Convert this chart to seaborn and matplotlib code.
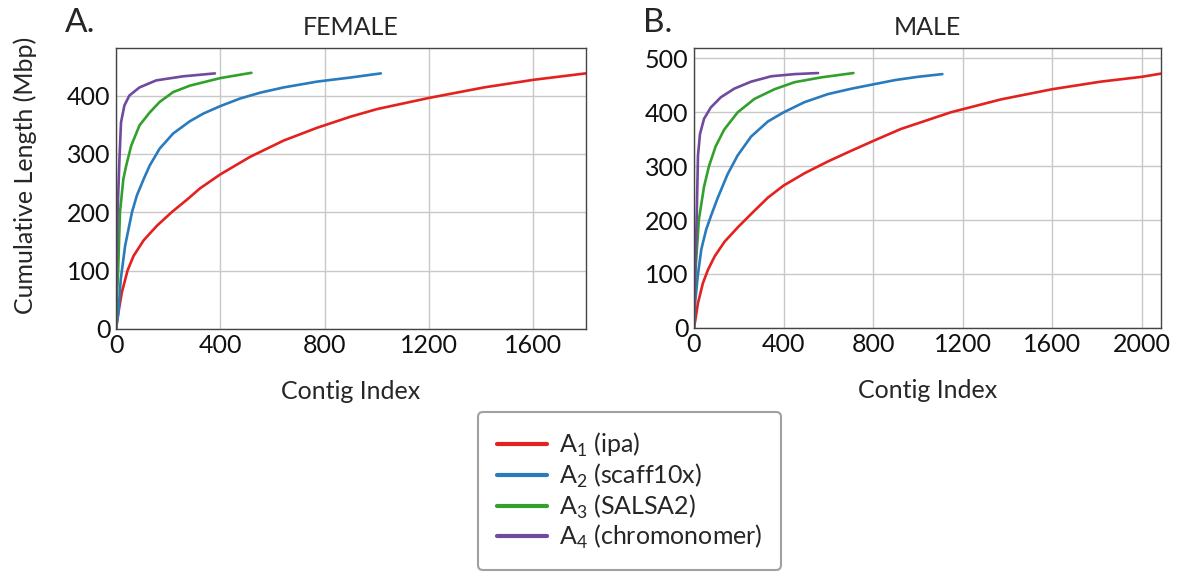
import matplotlib
matplotlib.use("Agg")
import matplotlib.pyplot as plt
import seaborn as sns
import pandas as pd

sns.set_theme(style="whitegrid")
plt.rcParams['font.family'] = ['Lato', 'DejaVu Sans']
plt.rcParams['mathtext.fontset'] = 'custom'
plt.rcParams['mathtext.rm'] = 'Lato'

labels = ["A$_1$ (ipa)", "A$_2$ (scaff10x)", "A$_3$ (SALSA2)", "A$_4$ (chromonomer)"]
colors = ["#e3211f", "#2a7bbd", "#33a02c", "#6f4a9e"]

# FEMALE (contig index, cumulative Mbp)
f_ipa_x = [0, 3, 9, 22, 44, 67, 106, 157, 213, 273, 322, 400, 514, 643, 772, 900, 1002, 1200, 1411, 1600, 1800]
f_ipa_y = [0, 10, 28, 62, 100, 125, 152, 177, 200, 222, 241, 265, 295, 323, 345, 364, 377, 396, 414, 427, 438]
f_scf_x = [0, 9, 18, 35, 61, 80, 106, 129, 167, 219, 283, 334, 400, 476, 553, 643, 772, 900, 1015]
f_scf_y = [0, 28, 85, 143, 200, 229, 257, 280, 309, 335, 356, 369, 382, 395, 405, 414, 424, 431, 438]
f_sal_x = [0, 3, 8, 15, 28, 39, 58, 90, 129, 167, 219, 283, 400, 519]
f_sal_y = [0, 50, 100, 200, 257, 280, 314, 349, 371, 389, 406, 417, 430, 439]
f_chr_x = [0, 2, 6, 13, 19, 32, 51, 90, 154, 257, 379]
f_chr_y = [0, 100, 200, 291, 354, 383, 400, 414, 426, 433, 438]

# MALE
m_ipa_x = [0, 6, 18, 40, 63, 93, 137, 197, 257, 331, 400, 494, 599, 704, 801, 923, 1146, 1370, 1600, 1816, 2000, 2086]
m_ipa_y = [0, 14, 46, 83, 108, 133, 160, 187, 212, 242, 264, 287, 309, 329, 347, 369, 400, 424, 443, 457, 466, 472]
m_scf_x = [0, 6, 18, 33, 55, 78, 105, 150, 195, 255, 330, 400, 494, 599, 704, 801, 899, 1000, 1109]
m_scf_y = [0, 50, 100, 146, 183, 210, 240, 285, 320, 355, 383, 400, 419, 434, 444, 452, 460, 466, 471]
m_sal_x = [0, 7, 22, 45, 67, 97, 135, 195, 270, 360, 449, 569, 712]
m_sal_y = [0, 108, 201, 262, 300, 337, 368, 400, 425, 443, 456, 465, 473]
m_chr_x = [0, 5, 12, 18, 27, 45, 75, 120, 180, 255, 345, 449, 554]
m_chr_y = [0, 100, 202, 320, 360, 388, 409, 428, 444, 457, 467, 471, 473]


def build(series):
    rows = []
    for lab, xs, ys in series:
        for x, y in zip(xs, ys):
            rows.append({"Assembly": lab, "x": x, "y": y})
    return pd.DataFrame(rows)


fem = build(zip(labels, [f_ipa_x, f_scf_x, f_sal_x, f_chr_x], [f_ipa_y, f_scf_y, f_sal_y, f_chr_y]))
mal = build(zip(labels, [m_ipa_x, m_scf_x, m_sal_x, m_chr_x], [m_ipa_y, m_scf_y, m_sal_y, m_chr_y]))

fig = plt.figure(figsize=(11.77, 5.75), dpi=100)
ax1 = fig.add_axes([0.0986, 0.428, 0.399, 0.489])
ax2 = fig.add_axes([0.5896, 0.43, 0.397, 0.487])

pal = dict(zip(labels, colors))
for ax, df, title, letter, xmax, ymax, yt in [
    (ax1, fem, "FEMALE", "A.", 1800, 482, [0, 100, 200, 300, 400]),
    (ax2, mal, "MALE", "B.", 2086, 520, [0, 100, 200, 300, 400, 500]),
]:
    sns.lineplot(data=df, x="x", y="y", hue="Assembly", palette=pal, sort=False,
                 linewidth=1.9, ax=ax, legend=(ax is ax1))
    ax.set_xlim(0, xmax)
    ax.set_ylim(0, ymax)
    ax.set_xticks([t for t in [0, 400, 800, 1200, 1600, 2000] if t <= xmax])
    ax.set_yticks(yt)
    ax.tick_params(labelsize=18, length=3, pad=1, colors="#111111")
    ax.grid(True, color="#c8c8c8", linewidth=1.0)
    for s in ax.spines.values():
        s.set_color("#444444")
        s.set_linewidth(1.0)
    ax.set_xlabel("Contig Index", fontsize=18, labelpad=16)
    ax.set_ylabel("")
    ax.set_title(title, fontsize=18, pad=9)
    ax.text(-0.108, 1.035, letter, transform=ax.transAxes,
            fontsize=24, ha="left", va="bottom")

ax1.set_ylabel("Cumulative Length (Mbp)", fontsize=18)
ax1.yaxis.set_label_coords(-0.168, 0.545)

handles, labs = ax1.get_legend_handles_labels()
ax1.get_legend().remove()
leg = fig.legend(handles, labs, loc="lower center", bbox_to_anchor=(0.535, 0.0),
                 fontsize=18, frameon=True, fancybox=True, edgecolor="#888888",
                 borderpad=0.75, handlelength=2.0, labelspacing=0.1, handletextpad=0.5,
                 borderaxespad=0.2)
leg.get_frame().set_linewidth(1.5)
for h in leg.get_lines():
    h.set_linewidth(3)

fig.savefig("out.png", dpi=100)
